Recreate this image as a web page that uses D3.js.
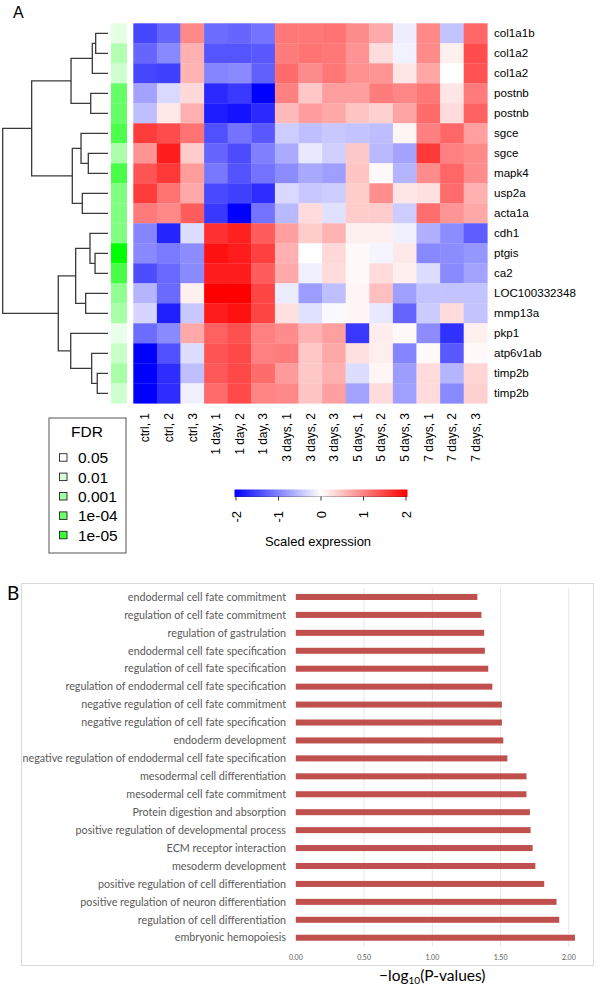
<!DOCTYPE html>
<html><head><meta charset="utf-8">
<script src="https://cdn.jsdelivr.net/npm/d3@7"></script>
<style>body{margin:0;background:#fff}svg{display:block}</style>
</head><body>
<svg id="c" width="600" height="991"></svg>
<script>
// ---------- Panel A data ----------
const genes = ["col1a1b","col1a2","col1a2","postnb","postnb","sgce","sgce","mapk4","usp2a","acta1a","cdh1","ptgis","ca2","LOC100332348","mmp13a","pkp1","atp6v1ab","timp2b","timp2b"];
const samples = ["ctrl, 1","ctrl, 2","ctrl, 3","1 day, 1","1 day, 2","1 day, 3","3 days, 1","3 days, 2","3 days, 3","5 days, 1","5 days, 2","5 days, 3","7 days, 1","7 days, 2","7 days, 3"];
const expr = [
 [-1.45,-1.2,0.93,-1.15,-1.2,-1.1,1.07,1.07,1.1,0.9,0.67,-0.13,0.93,-0.47,1.2],
 [-1.2,-0.93,0.62,-1.33,-1.33,-1.3,1.03,1.1,1.07,0.85,0.27,-0.1,0.92,0.12,1.4],
 [-1.45,-1.5,0.6,-0.96,-0.92,-1.25,1.15,0.9,1.07,0.87,0.84,0.2,0.7,0,1.35],
 [-0.72,-0.3,0.3,-1.67,-1.55,-2,1.0,0.43,0.76,0.76,1.03,0.95,1.07,0.2,1.04],
 [-0.5,0.18,0.63,-1.77,-1.85,-1.67,0.53,0.77,0.68,0.46,0.37,0.71,1.15,0.28,1.23],
 [1.53,1.4,1.1,-1.37,-1.1,-1.3,-0.4,-0.5,-0.43,-0.47,-0.52,0.08,1.0,1.2,0.75],
 [0.84,1.77,0.4,-1.2,-1.4,-1.0,-0.67,-0.18,-0.37,0.43,-0.55,-0.71,1.56,1.0,0.92],
 [1.34,1.56,0.77,-1.06,-1.34,-1.1,-0.9,-0.68,-0.75,0.46,0.05,-0.58,0.9,1.2,0.9],
 [1.53,1.1,0.68,-1.43,-1.5,-1.65,-0.3,-0.43,-0.4,0.4,0.88,0.2,0.24,1.15,0.62],
 [1.04,0.93,1.28,-1.56,-2,-1.1,-0.55,0.28,-0.24,0.4,0.4,-0.4,1.14,0.84,0.68],
 [-0.96,-1.72,-0.27,1.62,1.75,1.28,0.75,0.4,0.6,0.12,0.12,-0.12,-0.62,-0.9,-1.28],
 [-0.93,-1.04,-0.9,1.87,1.78,1.5,0.62,0,0.3,0.05,-0.08,0.18,-0.93,-0.9,-0.82],
 [-1.4,-1.18,-0.92,1.78,1.78,1.28,0.67,-0.12,0.28,0.05,0.28,0.13,-0.27,-0.92,-0.72],
 [-0.58,-1.17,0.12,2,2,1.47,-0.15,-0.77,-0.5,0.08,0.5,-0.75,-0.47,-0.47,-0.47],
 [-0.33,-1.75,-0.43,1.78,1.87,1.47,0.24,-0.24,-0.05,0.08,-0.18,-1.2,-0.4,0.28,-0.47],
 [-1.15,-0.92,0.68,1.25,1.37,1.0,0.9,0.6,0.75,-1.56,0.15,0.05,-0.9,-1.62,0.12],
 [-2,-1.37,-0.27,1.34,1.43,1.0,1.03,0.43,0.68,0.24,0.13,-0.96,0.05,-1.3,0.05],
 [-2,-1.65,-0.5,1.31,1.43,1.15,0.79,0.43,0.62,-0.27,0.08,-0.77,0.28,-0.58,0.33],
 [-2,-1.65,-0.12,1.17,1.42,0.96,0.93,0.46,0.75,-0.72,0.28,-0.75,0.28,-0.92,0.37]
];
// -log10(FDR) per gene (row side colour)
const fdrLog = [1.8,2.7,2.2,4.1,4.1,4.6,2.85,4.7,3.65,3.65,3.6,6.0,4.7,3.3,2.9,1.7,2.3,2.9,2.2];
// hclust-style merges (negative = leaf, positive = earlier merge, 1-based) and heights
const merges = [[-1,-2],[1,-3],[-4,-5],[2,3],[-7,-8],[-6,5],[-9,-10],[6,7],[4,8],[-12,-13],[-11,10],[-14,-15],[11,12],[-18,-19],[-17,14],[-16,15],[13,16],[9,17]];
const mergeHeights = [0.117,0.149,0.164,0.351,0.187,0.256,0.244,0.339,0.725,0.123,0.171,0.212,0.307,0.102,0.155,0.354,0.472,1.0];
const fdrLegend = ["0.05","0.01","0.001","1e-04","1e-05"];
const colorTicks = [-2,-1,0,1,2];

// ---------- Panel B data ----------
const terms = ["endodermal cell fate commitment","regulation of cell fate commitment","regulation of gastrulation","endodermal cell fate specification","regulation of cell fate specification","regulation of endodermal cell fate specification","negative regulation of cell fate commitment","negative regulation of cell fate specification","endoderm development","negative regulation of endodermal cell fate specification","mesodermal cell differentiation","mesodermal cell fate commitment","Protein digestion and absorption","positive regulation of developmental process","ECM receptor interaction","mesoderm development","positive regulation of cell differentiation","positive regulation of neuron differentiation","regulation of cell differentiation","embryonic hemopoiesis"];
const logP = [1.33,1.36,1.38,1.385,1.41,1.44,1.51,1.51,1.52,1.55,1.69,1.69,1.715,1.72,1.735,1.755,1.82,1.91,1.93,2.045];
const barTicks = [0,0.5,1,1.5,2];

// ================= drawing =================
const svg = d3.select("#c");
svg.append("rect").attr("width",600).attr("height",991).attr("fill","#fff");
const AF = "'Liberation Sans', Arial, sans-serif";

svg.append("text").attr("x",13).attr("y",18).attr("font-family",AF).attr("font-size",16).text("A");

const xH = d3.scaleBand().domain(d3.range(samples.length)).range([133.3,487.3]);
const yH = d3.scaleBand().domain(d3.range(genes.length)).range([23.3,403.3]);
const heat = d3.scaleLinear().domain([-2,0,2]).range(["#0000ff","#ffffff","#ff0000"]).clamp(true);

const gH = svg.append("g");
expr.forEach((row,i)=>row.forEach((v,j)=>{
  gH.append("rect").attr("x",xH(j)).attr("y",yH(i)).attr("width",xH.bandwidth()+0.3).attr("height",yH.bandwidth()+0.3).attr("fill",heat(v));
}));

// side colours
const fdrCol = d3.scaleLinear().domain([1.3,6.0]).range(["#ffffff","#00ff00"]).clamp(true);
svg.append("g").selectAll("rect").data(fdrLog).join("rect")
  .attr("x",111).attr("width",16).attr("y",(d,i)=>yH(i)).attr("height",yH.bandwidth()+0.3)
  .attr("fill",d=>fdrCol(d));

// row labels
svg.append("g").selectAll("text").data(genes).join("text")
  .attr("x",494).attr("y",(d,i)=>yH(i)+yH.bandwidth()/2).attr("dy","0.35em")
  .attr("font-family",AF).attr("font-size",11.6).text(d=>d);

// column labels
svg.append("g").selectAll("text").data(samples).join("text")
  .attr("transform",(d,i)=>`translate(${xH(i)+xH.bandwidth()/2},413) rotate(-90)`)
  .attr("text-anchor","end").attr("dy","0.35em")
  .attr("font-family",AF).attr("font-size",12).text(d=>d);

// dendrogram
const xD = d3.scaleLinear().domain([0,1]).range([108,2.7]);
const nodeY = [], nodeX = [];
const gD = svg.append("g").attr("fill","none").attr("stroke","#3a3a3a").attr("stroke-width",1.3);
merges.forEach((m,k)=>{
  const pos = m.map(c=> c<0 ? [xD(0), yH(-c-1)+yH.bandwidth()/2] : [nodeX[c-1], nodeY[c-1]]);
  const hx = xD(mergeHeights[k]);
  gD.append("path").attr("d",`M${pos[0][0]},${pos[0][1]}H${hx}V${pos[1][1]}H${pos[1][0]}`);
  nodeX[k]=hx; nodeY[k]=(pos[0][1]+pos[1][1])/2;
});

// FDR legend
const gL = svg.append("g");
gL.append("rect").attr("x",49).attr("y",418).attr("width",77).attr("height",135).attr("fill","#fff").attr("stroke","#555").attr("stroke-width",1);
gL.append("text").attr("x",87).attr("y",437).attr("text-anchor","middle").attr("font-family",AF).attr("font-size",15.5).text("FDR");
const legLog = [1.3,2,3,4,5];
fdrLegend.forEach((t,i)=>{
  const cy = 457.7 + i*19.4;
  gL.append("rect").attr("x",59.5).attr("y",cy-4).attr("width",7.5).attr("height",7.5).attr("fill",fdrCol(legLog[i])).attr("stroke","#222").attr("stroke-width",0.9);
  gL.append("text").attr("x",78).attr("y",cy).attr("dy","0.36em").attr("font-family",AF).attr("font-size",15.5).text(t);
});

// colour key
const xK = d3.scaleLinear().domain([-2,2]).range([236,406]);
const grad = svg.append("defs").append("linearGradient").attr("id","kg");
[-2,0,2].forEach(v=>grad.append("stop").attr("offset",((v+2)/4*100)+"%").attr("stop-color",heat(v)));
svg.append("rect").attr("x",xK(-2)-1.5).attr("y",489.5).attr("width",xK(2)-xK(-2)+3).attr("height",7.5).attr("fill","url(#kg)");
const gK = svg.append("g");
colorTicks.forEach(t=>{
  gK.append("line").attr("x1",xK(t)).attr("x2",xK(t)).attr("y1",496.5).attr("y2",500.5).attr("stroke","#333").attr("stroke-width",1);
  gK.append("text").attr("transform",`translate(${xK(t)},511) rotate(-90)`).attr("text-anchor","end").attr("dy","0.35em")
    .attr("font-family",AF).attr("font-size",13).text(t);
});
gK.append("line").attr("x1",xK(-2)).attr("x2",xK(2)).attr("y1",496.5).attr("y2",496.5).attr("stroke","#333").attr("stroke-width",0.6).attr("opacity",0.5);
svg.append("text").attr("x",(xK(-2)+xK(2))/2-3).attr("y",546).attr("text-anchor","middle").attr("font-family",AF).attr("font-size",13).text("Scaled expression");

// ================= Panel B =================
const BF = "Lato, 'Open Sans', sans-serif";
svg.append("text").attr("x",7).attr("y",600).attr("font-family",BF).attr("font-size",19).text("B");
svg.append("rect").attr("x",21.5).attr("y",583.5).attr("width",572).attr("height",382).attr("fill","none").attr("stroke","#d9d9d9").attr("stroke-width",1);

const xB = d3.scaleLinear().domain([0,2]).range([295.8,568.8]);
const yB = d3.scaleBand().domain(terms).range([588,946.7]).paddingInner(0.665).paddingOuter(0.3325);

const gB = svg.append("g");
gB.selectAll("line.grid").data(barTicks.slice(1)).join("line").attr("class","grid")
  .attr("x1",d=>xB(d)).attr("x2",d=>xB(d)).attr("y1",588).attr("y2",946.7)
  .attr("stroke","#e6e6e6").attr("stroke-width",1);
gB.selectAll("rect.bar").data(terms).join("rect").attr("class","bar")
  .attr("x",xB(0)).attr("y",d=>yB(d)).attr("height",yB.bandwidth())
  .attr("width",(d,i)=>xB(logP[i])-xB(0)).attr("fill","#c0504d");
gB.selectAll("text.lab").data(terms).join("text").attr("class","lab")
  .attr("x",286).attr("y",d=>yB(d)+yB.bandwidth()/2).attr("dy","0.35em").attr("text-anchor","end")
  .attr("font-family",BF).attr("font-size",10.75).attr("fill","#595959").text(d=>d);
gB.selectAll("text.tick").data(barTicks).join("text").attr("class","tick")
  .attr("x",d=>xB(d)).attr("y",958).attr("dy","0.35em").attr("text-anchor","middle")
  .attr("font-family",BF).attr("font-size",7).attr("fill","#595959").text(d=>d3.format(".2f")(d));

const title = svg.append("text").attr("x",xB(1)).attr("y",981).attr("text-anchor","middle").attr("font-family",BF).attr("font-size",15.5).attr("fill","#000");
title.append("tspan").text("\u2212log");
title.append("tspan").attr("font-size",10).attr("dy",3).text("10");
title.append("tspan").attr("dy",-3).text("(P-values)");
</script>
</body></html>
